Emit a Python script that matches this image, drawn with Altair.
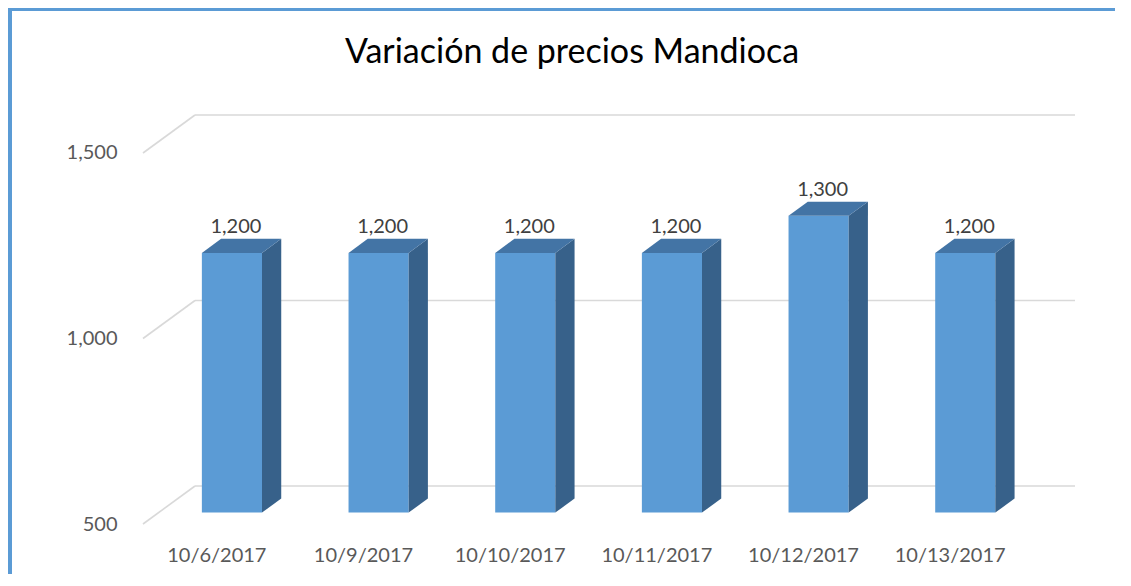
import altair as alt
import pandas as pd

# ---------------- data ----------------
dates = ["10/6/2017", "10/9/2017", "10/10/2017", "10/11/2017", "10/12/2017", "10/13/2017"]
prices = [1200, 1200, 1200, 1200, 1300, 1200]
y_ticks = [500, 1000, 1500]
chart_title = "Variación de precios Mandioca"

# ---------------- 3D geometry (in data units) ----------------
BASE = 500              # floor of the value axis
N = len(dates)
BACK_DX = 0.3545        # depth of the floor, in category units
BACK_DY = 102.4         # depth of the floor, in value units
T_FRONT, T_BACK = 0.30, 0.67   # depth fractions of bar front/back faces
HALF_W = 0.205          # half bar width in category units

W, H = 932, 409
X_DOMAIN = [0, N + BACK_DX]
Y_DOMAIN = [BASE, max(y_ticks) + BACK_DY]

FRONT = "#5B9BD5"
TOP = "#4374A5"
SIDE = "#37618A"
GRID = "#D9D9D9"
FONT = "Lato"

xs = alt.Scale(domain=X_DOMAIN, nice=False, zero=False)
ys = alt.Scale(domain=Y_DOMAIN, nice=False, zero=False)

label_arr = "[" + ",".join("'%s'" % d for d in dates) + "]"
x_axis = alt.Axis(values=[i + 0.5 for i in range(N)],
                  labelExpr=label_arr + "[floor(datum.value)]",
                  domain=False, ticks=False, grid=False, title=None,
                  labelFont=FONT, labelFontSize=20, labelColor="#595959",
                  labelPadding=21)
y_axis = alt.Axis(values=y_ticks, format=",.0f", domain=False, ticks=False,
                  grid=False, title=None, labelFont=FONT, labelFontSize=20,
                  labelColor="#595959", labelPadding=26)


def X(field):
    return alt.X(field, scale=xs, axis=x_axis, stack=None)


def Y(field):
    return alt.Y(field, scale=ys, axis=y_axis, stack=None)


# gridlines: back wall + left wall diagonals
grid_back = pd.DataFrame({"x": [BACK_DX] * len(y_ticks),
                          "x2": [N + BACK_DX] * len(y_ticks),
                          "y": [g + BACK_DY for g in y_ticks]})
grid_side = pd.DataFrame({"x": [0] * len(y_ticks),
                          "x2": [BACK_DX] * len(y_ticks),
                          "y": y_ticks,
                          "y2": [g + BACK_DY for g in y_ticks]})

bars = pd.DataFrame({"date": dates, "v": prices, "i": range(N)})
bars["c"] = bars["i"] + 0.5
bars["xl"] = bars["c"] - HALF_W + T_FRONT * BACK_DX
bars["xr"] = bars["c"] + HALF_W + T_FRONT * BACK_DX
bars["yb"] = BASE + T_FRONT * BACK_DY
bars["yt"] = bars["v"] + T_FRONT * BACK_DY
bars["lx"] = bars["c"] + T_FRONT * BACK_DX
bars["ly"] = bars["v"] + T_BACK * BACK_DY

side_rows, top_rows = [], []
for _, r in bars.iterrows():
    for t in (T_FRONT, T_BACK):
        side_rows.append({"bar": r["date"], "x": r["c"] + HALF_W + t * BACK_DX,
                          "ylo": BASE + t * BACK_DY, "yhi": r["v"] + t * BACK_DY})
        top_rows.append({"bar": r["date"], "y": r["v"] + t * BACK_DY,
                         "xl": r["c"] - HALF_W + t * BACK_DX,
                         "xr": r["c"] + HALF_W + t * BACK_DX})
side = pd.DataFrame(side_rows)
top = pd.DataFrame(top_rows)

l_grid_back = alt.Chart(grid_back).mark_rule(color=GRID, strokeWidth=1.6).encode(
    x=X("x:Q"), x2="x2:Q", y=Y("y:Q"))
l_grid_side = alt.Chart(grid_side).mark_rule(color=GRID, strokeWidth=1.6).encode(
    x=X("x:Q"), x2="x2:Q", y=Y("y:Q"), y2="y2:Q")

l_front = alt.Chart(bars).mark_rect(color=FRONT).encode(
    x=X("xl:Q"), x2="xr:Q", y=Y("yt:Q"), y2="yb:Q")
l_side = alt.Chart(side).mark_area(color=SIDE, orient="vertical").encode(
    x=X("x:Q"), y=Y("yhi:Q"), y2="ylo:Q", detail="bar:N")
l_top = alt.Chart(top).mark_area(color=TOP, orient="horizontal").encode(
    y=Y("y:Q"), x=X("xl:Q"), x2="xr:Q", detail="bar:N")

l_labels = alt.Chart(bars).mark_text(font=FONT, fontSize=20, color="#404040",
                                     baseline="alphabetic", dx=4, dy=-5.5).encode(
    x=X("lx:Q"), y=Y("ly:Q"), text=alt.Text("v:Q", format=",.0f"))

# chart title as a text layer (placed in the top band of the frame)
l_title = alt.Chart(pd.DataFrame({"t": [chart_title]})).mark_text(
    font=FONT, fontSize=34, color="#000000", baseline="alphabetic", align="center").encode(
    x=alt.value(429), y=alt.value(-52), text="t:N")

# decorative chart frame (left and top edges)
frame_l = alt.Chart(pd.DataFrame({"a": [0]})).mark_rule(color=FRONT, strokeWidth=6).encode(
    x=alt.value(-134), y=alt.value(-110), y2=alt.value(H + 80))
frame_t = alt.Chart(pd.DataFrame({"a": [0]})).mark_rule(color=FRONT, strokeWidth=6).encode(
    x=alt.value(-140), x2=alt.value(W + 70), y=alt.value(-107))

chart = alt.layer(l_grid_back, l_grid_side, l_front, l_side, l_top, l_labels,
                  l_title, frame_l, frame_t).properties(
    width=W, height=H,
    autosize="none",
    background="white",
    padding={"left": 135, "top": 107, "right": 40, "bottom": 50},
).configure_view(stroke=None)

chart.save("out.html", embed_options={"renderer": "svg", "actions": False})
